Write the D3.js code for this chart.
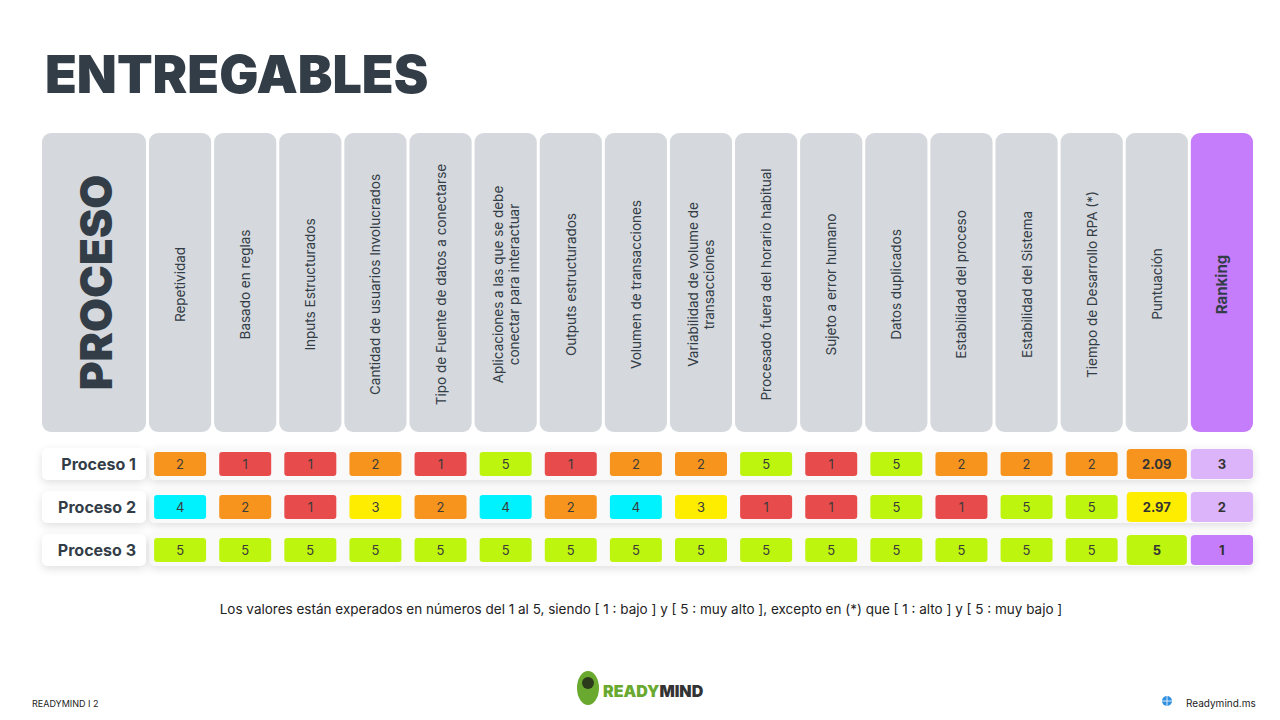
<!DOCTYPE html>
<html><head><meta charset="utf-8">
<script src="https://cdn.jsdelivr.net/npm/d3@7"></script>
<style>
body{margin:0;background:#fff;font-family:Inter,"Liberation Sans",sans-serif;}
</style></head>
<body>
<svg id="chart" width="1280" height="720"></svg>
<script>
// ---- data ----
var criteria = [
  ["Repetividad"], ["Basado  en reglas"], ["Inputs Estructurados"],
  ["Cantidad de usuarios Involucrados"], ["Tipo de Fuente de datos a conectarse"],
  ["Aplicaciones a las que se debe", "conectar para interactuar"],
  ["Outputs estructurados"], ["Volumen de transacciones"],
  ["Variabilidad  de volume de", "transacciones"],
  ["Procesado fuera del horario habitual"], ["Sujeto a error humano"],
  ["Datos duplicados"], ["Estabilidad  del proceso"], ["Estabilidad  del Sistema"],
  ["Tiempo de Desarrollo RPA (*)"]
];
var processes = ["Proceso 1", "Proceso 2", "Proceso 3"];
var proc1 = [2, 1, 1, 2, 1, 5, 1, 2, 2, 5, 1, 5, 2, 2, 2];
var proc2 = [4, 2, 1, 3, 2, 4, 2, 4, 3, 1, 1, 5, 1, 5, 5];
var proc3 = [5, 5, 5, 5, 5, 5, 5, 5, 5, 5, 5, 5, 5, 5, 5];
var scores = ["2.09", "2.97", "5"];
var scoreLevel = [2, 3, 5];
var ranking = [3, 2, 1];

var svg = d3.select("#chart");
var defs = svg.append("defs");
var f = defs.append("filter").attr("id", "sh").attr("x", "-20%").attr("y", "-50%").attr("width", "140%").attr("height", "200%");
f.append("feDropShadow").attr("dx", 0).attr("dy", 3).attr("stdDeviation", 4).attr("flood-color", "#000").attr("flood-opacity", 0.12);

var levelColor = d3.scaleOrdinal().domain([1, 2, 3, 4, 5])
  .range(["#e84b4b", "#f7941d", "#ffed00", "#00f2ff", "#bef50f"]);

// columns: criteria + Puntuación + Ranking
var cols = criteria.map(function (d, i) { return i; }).concat(["score", "rank"]);
var x = d3.scaleBand().domain(cols).range([149, 1253]).paddingInner(0.045);
var y = d3.scaleBand().domain(processes).range([449, 565]).paddingInner(0.3);

// title
svg.append("text").attr("x", 45).attr("y", 93).attr("font-size", 52).attr("font-weight", 900)
  .attr("fill", "#333d47").attr("font-family", "Inter, sans-serif")
  .text("ENTREGABLES");

// header
var hTop = 133, hBot = 432;
svg.append("rect").attr("x", 42).attr("y", hTop).attr("width", 104).attr("height", hBot - hTop)
  .attr("rx", 9).attr("fill", "#d5d8dc");
svg.append("text").attr("transform", "translate(112," + (hTop + hBot) / 2 + ") rotate(-90)")
  .attr("text-anchor", "middle").attr("font-size", 44).attr("font-weight", 900).attr("fill", "#333d47")
  .text("PROCESO");

var hdr = svg.selectAll("g.hdr").data(cols).enter().append("g").attr("class", "hdr");
hdr.append("rect").attr("x", function (d) { return x(d); }).attr("y", hTop)
  .attr("width", x.bandwidth()).attr("height", hBot - hTop).attr("rx", 9)
  .attr("fill", function (d) { return d === "rank" ? "#c67dfc" : "#d5d8dc"; });
hdr.each(function (d) {
  var lines = d === "score" ? ["Puntuación"] : d === "rank" ? ["Ranking"] : criteria[d];
  var cx = x(d) + x.bandwidth() / 2;
  var cy = d === "score" ? 284 : (hTop + hBot) / 2 + 2;
  var t = d3.select(this).append("text")
    .attr("transform", "translate(" + cx + "," + cy + ") rotate(-90)")
    .attr("text-anchor", "middle")
    .attr("font-size", d === "rank" ? 15 : 13.5).attr("font-weight", d === "rank" ? 700 : 400)
    .attr("fill", "#333d47");
  var off = (lines.length - 1) * 8;
  lines.forEach(function (l, i) {
    t.append("tspan").attr("x", 0).attr("y", 5 - off + i * 16).text(l);
  });
});

// rows
var rows = [proc1, proc2, proc3];
var rg = svg.selectAll("g.row").data(processes).enter().append("g").attr("class", "row");
rg.append("rect").attr("x", 149).attr("y", function (d) { return y(d) - 1; })
  .attr("width", 1104).attr("height", y.bandwidth() + 2).attr("rx", 6)
  .attr("fill", "#f9f9fa").attr("filter", "url(#sh)");
rg.append("rect").attr("x", 42).attr("y", function (d) { return y(d) - 1; })
  .attr("width", 104).attr("height", y.bandwidth() + 2).attr("rx", 6)
  .attr("fill", "#fff").attr("filter", "url(#sh)");
rg.append("text").attr("x", 136).attr("y", function (d) { return y(d) + y.bandwidth() / 2 + 6; })
  .attr("text-anchor", "end").attr("font-size", 16).attr("font-weight", 700).attr("fill", "#333d47")
  .text(function (d) { return d; });

var cellW = 52, cellH = 24;
rows.forEach(function (vals, r) {
  var p = processes[r];
  var cy = y(p) + y.bandwidth() / 2;
  var g = svg.append("g");
  var c = g.selectAll("g").data(vals).enter().append("g");
  c.append("rect").attr("x", function (d, i) { return x(i) + x.bandwidth() / 2 - cellW / 2; })
    .attr("y", cy - cellH / 2).attr("width", cellW).attr("height", cellH).attr("rx", 3)
    .attr("fill", function (d) { return levelColor(d); });
  c.append("text").attr("x", function (d, i) { return x(i) + x.bandwidth() / 2; })
    .attr("y", cy + 5).attr("text-anchor", "middle").attr("font-size", 13).attr("fill", "#3b3b3b")
    .text(function (d) { return d; });
  // score
  g.append("rect").attr("x", x("score") + 1).attr("y", cy - 15).attr("width", x.bandwidth() - 2)
    .attr("height", 30).attr("rx", 4).attr("fill", levelColor(scoreLevel[r]));
  g.append("text").attr("x", x("score") + x.bandwidth() / 2).attr("y", cy + 5)
    .attr("text-anchor", "middle").attr("font-size", 13).attr("font-weight", 700).attr("fill", "#333")
    .text(scores[r]);
  // ranking
  g.append("rect").attr("x", x("rank")).attr("y", cy - 15).attr("width", x.bandwidth())
    .attr("height", 30).attr("rx", 4).attr("fill", r === 2 ? "#c67dfc" : "#dcb4fa");
  g.append("text").attr("x", x("rank") + x.bandwidth() / 2).attr("y", cy + 5)
    .attr("text-anchor", "middle").attr("font-size", 13).attr("font-weight", 700).attr("fill", "#333")
    .text(ranking[r]);
});

// footnote
svg.append("text").attr("x", 641).attr("y", 614).attr("text-anchor", "middle").attr("font-size", 13.5)
  .attr("fill", "#222")
  .text("Los valores están experados en números del 1 al 5, siendo [ 1 : bajo ] y [ 5 : muy alto ], excepto en (*) que [ 1 : alto ] y [ 5 : muy bajo ]");

// footer
svg.append("text").attr("x", 32).attr("y", 707).attr("font-size", 9).attr("fill", "#222").text("READYMIND   I  2");
var logo = svg.append("g").attr("transform", "translate(588,688)");
logo.append("ellipse").attr("rx", 11).attr("ry", 17).attr("fill", "#6aa92f");
logo.append("circle").attr("cy", -5).attr("r", 6).attr("fill", "#2c3a1c");
svg.append("text").attr("x", 603).attr("y", 697).attr("font-size", 16).attr("font-weight", 900)
  .attr("fill", "#6aa92f").text("READY")
  .append("tspan").attr("fill", "#333").text("MIND");
var globe = svg.append("g").attr("transform", "translate(1167,701)");
globe.append("circle").attr("r", 5).attr("fill", "#2f8fe0");
globe.append("path").attr("d", "M-5,0H5M0,-5V5").attr("stroke", "#fff").attr("stroke-width", 0.8);
svg.append("text").attr("x", 1186).attr("y", 707).attr("font-size", 10).attr("fill", "#222").text("Readymind.ms");
</script>
</body></html>
